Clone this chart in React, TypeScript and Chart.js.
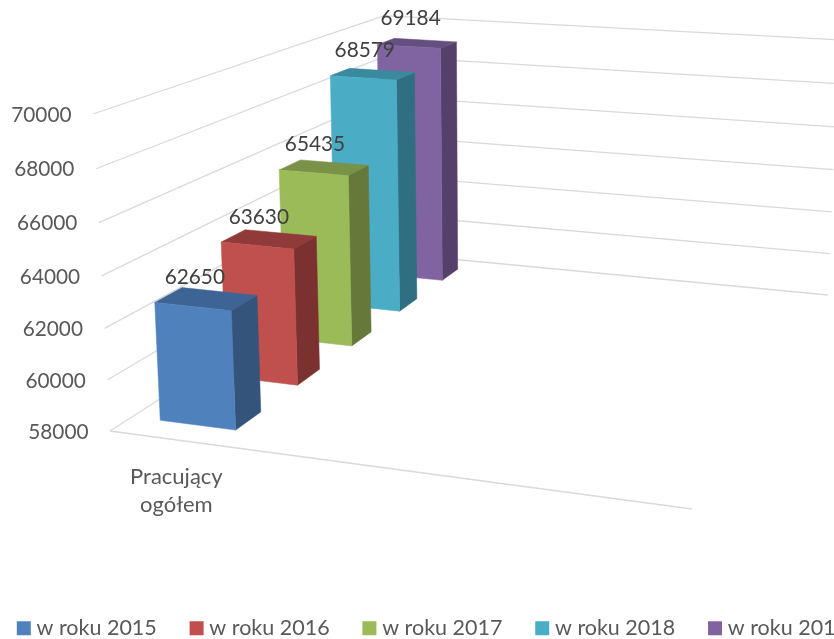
import React, { useEffect, useRef } from "react";
import { Chart, registerables } from "chart.js";

Chart.register(...registerables);

const CATEGORIES: (string | string[])[] = [["Pracujący", "ogółem"], "", "", ""];
const SERIES_NAMES = ["w roku 2015", "w roku 2016", "w roku 2017", "w roku 2018", "w roku 2019"];
const VALUES_2015 = [62650];
const VALUES_2016 = [63630];
const VALUES_2017 = [65435];
const VALUES_2018 = [68579];
const VALUES_2019 = [69184];
const SERIES_VALUES = [VALUES_2015, VALUES_2016, VALUES_2017, VALUES_2018, VALUES_2019];
const AXIS_MIN = 58000;
const AXIS_MAX = 70000;
const AXIS_STEP = 2000;

const FRONT = ["#4F81BD", "#C0504D", "#9BBB59", "#4BACC6", "#8064A2"];
const SIDE = ["#34547B", "#7B3130", "#66793B", "#2F6F81", "#54406B"];
const TOP = ["#3E6496", "#903A39", "#7A9148", "#3A8A9F", "#644F80"];

const FONT = "Lato, 'Open Sans', sans-serif";
const FONT_SIZE = 20.8;
const CATEGORY_FONT_SIZE = 22;
const LEGEND_FONT_SIZE = 21.5;
const CANVAS_LEFT = -16;

// Camera of the 3D box: pixel corners of the floor and the height perspective.
const FLOOR_FRONT_LEFT = [110, 431];
const FLOOR_FRONT_RIGHT = [692, 509];
const FLOOR_BACK_LEFT = [388, 253];
const FLOOR_BACK_RIGHT = [828, 295];
const WALL_TOP_FRONT_LEFT = [93, 114];
const HEIGHT_PERSPECTIVE = -0.042;
const DEPTH_BAR_SHARE = 0.39;

function makeProjection() {
  const [ax, ay] = FLOOR_FRONT_LEFT;
  const [bx, by] = FLOOR_FRONT_RIGHT;
  const [cx, cy] = FLOOR_BACK_LEFT;
  const [dx, dy] = FLOOR_BACK_RIGHT;
  const e1x = bx - dx, e1y = by - dy, e2x = cx - dx, e2y = cy - dy;
  const sx = ax - bx + dx - cx, sy = ay - by + dy - cy;
  const det = e1x * e2y - e2x * e1y;
  const p = (sx * e2y - e2x * sy) / det;
  const q = (e1x * sy - sx * e1y) / det;
  const ux = bx * (1 + p) - ax, uy = by * (1 + p) - ay;
  const wx = cx * (1 + q) - ax, wy = cy * (1 + q) - ay;
  const r = HEIGHT_PERSPECTIVE;
  const hx = WALL_TOP_FRONT_LEFT[0] * (1 + r) - ax;
  const hy = WALL_TOP_FRONT_LEFT[1] * (1 + r) - ay;
  return (u: number, w: number, h: number): [number, number] => {
    const den = 1 + p * u + q * w + r * h;
    return [(ax + ux * u + wx * w + hx * h) / den, (ay + uy * u + wy * w + hy * h) / den];
  };
}

const project = makeProjection();

function face(ctx: CanvasRenderingContext2D, pts: [number, number][], color: string) {
  ctx.beginPath();
  pts.forEach((pt, i) => (i ? ctx.lineTo(pt[0], pt[1]) : ctx.moveTo(pt[0], pt[1])));
  ctx.closePath();
  ctx.fillStyle = color;
  ctx.strokeStyle = color;
  ctx.lineWidth = 0.5;
  ctx.fill();
  ctx.stroke();
}

const box3d = {
  id: "box3d",
  beforeDatasetsDraw(chart: any) {
    const ctx: CanvasRenderingContext2D = chart.ctx;
    const yScale = chart.scales.y;
    const xScale = chart.scales.x;
    const heightOf = (v: number) => yScale.getDecimalForPixel(yScale.getPixelForValue(v));
    ctx.save();
    ctx.translate(-CANVAS_LEFT, 0);

    // walls
    ctx.strokeStyle = "#D9D9D9";
    ctx.lineWidth = 1.3;
    yScale.ticks.forEach((t: any) => {
      const h = heightOf(t.value);
      const a = project(0, 0, h), b = project(0, 1, h), c = project(1, 1, h);
      ctx.beginPath();
      ctx.moveTo(a[0], a[1]);
      ctx.lineTo(b[0], b[1]);
      ctx.lineTo(c[0], c[1]);
      ctx.stroke();
    });
    const f0 = project(0, 0, 0), f1 = project(1, 0, 0);
    ctx.beginPath();
    ctx.moveTo(f0[0], f0[1]);
    ctx.lineTo(f1[0], f1[1]);
    ctx.stroke();

    // tick labels
    ctx.font = `${FONT_SIZE}px ${FONT}`;
    ctx.fillStyle = "#595959";
    ctx.textAlign = "right";
    ctx.textBaseline = "middle";
    yScale.ticks.forEach((t: any) => {
      const a = project(0, 0, heightOf(t.value));
      ctx.fillText(String(t.value), a[0] - 21.5, a[1] + 1);
    });

    // category labels
    ctx.font = `${CATEGORY_FONT_SIZE}px ${FONT}`;
    ctx.textAlign = "center";
    CATEGORIES.forEach((label, idx) => {
      const lines = Array.isArray(label) ? label : [label];
      const u = (xScale.getPixelForTick(idx) - xScale.left) / xScale.width;
      const a = project(u, 0, 0);
      lines.forEach((line, i) => ctx.fillText(line, a[0], a[1] + 37 + i * 28));
    });

    // bars, back to front
    const n = chart.data.datasets.length;
    const labels: { text: string; x: number; y: number }[] = [];
    for (let i = n - 1; i >= 0; i--) {
      const el = chart.getDatasetMeta(i).data[0];
      const value = chart.data.datasets[i].data[0];
      const u0 = (el.x - el.width / 2 - xScale.left) / xScale.width;
      const u1 = (el.x + el.width / 2 - xScale.left) / xScale.width;
      const wc = (i + 0.5) / n;
      const w0 = wc - DEPTH_BAR_SHARE / n / 2;
      const w1 = wc + DEPTH_BAR_SHARE / n / 2;
      const h = heightOf(value);
      face(ctx, [project(u1, w0, 0), project(u1, w1, 0), project(u1, w1, h), project(u1, w0, h)], SIDE[i]);
      face(ctx, [project(u0, w0, h), project(u1, w0, h), project(u1, w1, h), project(u0, w1, h)], TOP[i]);
      face(ctx, [project(u0, w0, 0), project(u1, w0, 0), project(u1, w0, h), project(u0, w0, h)], FRONT[i]);
      const c = project((u0 + u1) / 2, wc, h);
      labels.push({ text: String(value), x: c[0] - 12 + 6 * wc, y: c[1] - 21 - 4.5 * wc });
    }

    // value labels
    ctx.fillStyle = "#404040";
    ctx.font = `${FONT_SIZE}px ${FONT}`;
    labels.forEach((l) => ctx.fillText(l.text, l.x, l.y));
    ctx.restore();
    return false;
  },
};

export default function App() {
  const ref = useRef<HTMLCanvasElement>(null);
  useEffect(() => {
    document.body.style.margin = "0";
    document.body.style.background = "#fff";
    const chart = new Chart(ref.current!, {
      type: "bar",
      data: {
        labels: CATEGORIES as any,
        datasets: SERIES_NAMES.map((name, i) => ({
          label: name,
          data: SERIES_VALUES[i],
          backgroundColor: FRONT[i],
          grouped: false,
          barPercentage: 0.571,
          categoryPercentage: 1,
        })),
      },
      options: {
        responsive: false,
        animation: false,
        layout: { padding: 0 },
        scales: {
          x: { display: false, offset: true, grid: { display: false } },
          y: { display: false, min: AXIS_MIN, max: AXIS_MAX, ticks: { stepSize: AXIS_STEP } },
        },
        plugins: {
          tooltip: { enabled: false },
          legend: {
            position: "bottom",
            align: "start",
            labels: {
              font: { family: FONT, size: LEGEND_FONT_SIZE },
              color: "#595959",
              boxWidth: 4,
              boxHeight: 4,
              padding: 37.8,
              generateLabels: (c: any) =>
                c.data.datasets.map((d: any, i: number) => ({
                  text: d.label,
                  fillStyle: FRONT[i],
                  strokeStyle: FRONT[i],
                  fontColor: "#595959",
                  lineWidth: 10,
                  datasetIndex: i,
                })),
            },
          },
        },
      } as any,
      plugins: [box3d as any],
    });
    return () => chart.destroy();
  }, []);
  return (
    <div style={{ position: "fixed", left: 0, top: 0, width: 834, height: 639, overflow: "hidden", background: "#fff" }}>
      <canvas ref={ref} width={930} height={649} style={{ position: "absolute", left: CANVAS_LEFT, top: 0 }} />
    </div>
  );
}
